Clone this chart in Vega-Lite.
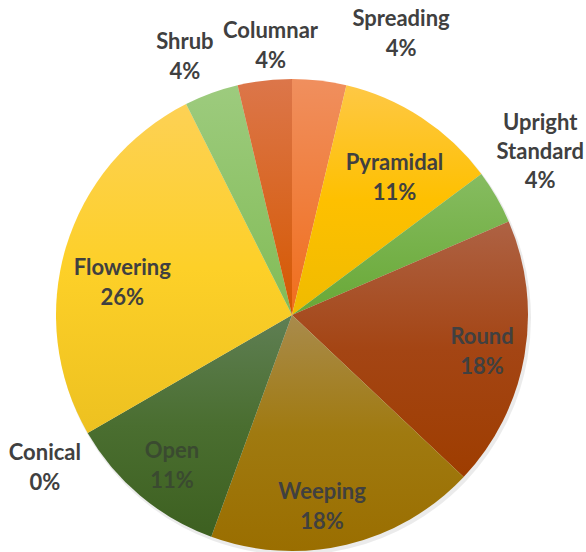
{
  "$schema": "https://vega.github.io/schema/vega-lite/v6.json",
  "autosize": "none",
  "padding": {"left": 0, "top": 78, "right": 2, "bottom": 0},
  "width": 584,
  "height": 474,
  "background": "white",
  "view": {"stroke": null},
  "data": {
    "values": [
      {"idx": 1, "shape": "Spreading", "share": 3.7, "label": "Spreading\n4%"},
      {"idx": 2, "shape": "Pyramidal", "share": 11.1, "label": "Pyramidal\n11%"},
      {"idx": 3, "shape": "Upright Standard", "share": 3.7, "label": "Upright\nStandard\n4%"},
      {"idx": 4, "shape": "Round", "share": 18.5, "label": "Round\n18%"},
      {"idx": 5, "shape": "Weeping", "share": 18.5, "label": "Weeping\n18%"},
      {"idx": 6, "shape": "Open", "share": 11.1, "label": "Open\n11%"},
      {"idx": 7, "shape": "Conical", "share": 0, "label": "Conical\n0%"},
      {"idx": 8, "shape": "Flowering", "share": 25.9, "label": "Flowering\n26%"},
      {"idx": 9, "shape": "Shrub", "share": 3.7, "label": "Shrub\n4%"},
      {"idx": 10, "shape": "Columnar", "share": 3.7, "label": "Columnar\n4%"}
    ]
  },
  "encoding": {
    "theta": {"field": "share", "type": "quantitative", "stack": true},
    "order": {"field": "idx", "type": "quantitative"}
  },
  "layer": [
    {
      "mark": {"type": "arc", "radius": 237, "xOffset": 2, "yOffset": 3, "color": "#000000", "opacity": 0.08}
    },
    {
      "mark": {"type": "arc", "radius": 236},
      "encoding": {
        "color": {
          "condition": [
            {"test": "datum.shape === 'Spreading'", "value": {"gradient": "linear", "x1": 0, "y1": 0, "x2": 0, "y2": 1, "stops": [{"offset": 0, "color": "#F08F5E"}, {"offset": 1, "color": "#F06E1C"}]}},
            {"test": "datum.shape === 'Pyramidal'", "value": {"gradient": "linear", "x1": 0, "y1": 0, "x2": 0, "y2": 1, "stops": [{"offset": 0, "color": "#FEC845"}, {"offset": 0.5, "color": "#FEC000"}, {"offset": 1, "color": "#EFBB00"}]}},
            {"test": "datum.shape === 'Upright Standard'", "value": {"gradient": "linear", "x1": 0, "y1": 0, "x2": 0, "y2": 1, "stops": [{"offset": 0, "color": "#86BC60"}, {"offset": 1, "color": "#68A836"}]}},
            {"test": "datum.shape === 'Round'", "value": {"gradient": "linear", "x1": 0, "y1": 0, "x2": 0, "y2": 1, "stops": [{"offset": 0, "color": "#AE6244"}, {"offset": 0.5, "color": "#A44514"}, {"offset": 1, "color": "#9E3D00"}]}},
            {"test": "datum.shape === 'Weeping'", "value": {"gradient": "linear", "x1": 0, "y1": 0, "x2": 0, "y2": 1, "stops": [{"offset": 0, "color": "#A98B4C"}, {"offset": 0.5, "color": "#A07A10"}, {"offset": 1, "color": "#9A6E00"}]}},
            {"test": "datum.shape === 'Open'", "value": {"gradient": "linear", "x1": 0, "y1": 0, "x2": 0, "y2": 1, "stops": [{"offset": 0, "color": "#5F7F54"}, {"offset": 0.5, "color": "#4A6E30"}, {"offset": 1, "color": "#3D6020"}]}},
            {"test": "datum.shape === 'Flowering'", "value": {"gradient": "linear", "x1": 0, "y1": 0, "x2": 0, "y2": 1, "stops": [{"offset": 0, "color": "#FDD155"}, {"offset": 0.5, "color": "#FDD028"}, {"offset": 1, "color": "#EDC120"}]}},
            {"test": "datum.shape === 'Shrub'", "value": {"gradient": "linear", "x1": 0, "y1": 0, "x2": 0, "y2": 1, "stops": [{"offset": 0, "color": "#9DCB7E"}, {"offset": 1, "color": "#82BC56"}]}},
            {"test": "datum.shape === 'Columnar'", "value": {"gradient": "linear", "x1": 0, "y1": 0, "x2": 0, "y2": 1, "stops": [{"offset": 0, "color": "#DC764A"}, {"offset": 1, "color": "#D55800"}]}}
          ],
          "value": "#5B9BD5"
        }
      }
    },
    {
      "mark": {"type": "text", "radius": 172, "dx": 8, "dy": -8, "font": "Lato", "fontWeight": "bold", "fontSize": 22, "lineHeight": 30, "lineBreak": "\n", "color": "#404040"},
      "encoding": {"text": {"condition": {"test": "datum.shape === 'Pyramidal'", "field": "label"}, "value": ""}}
    },
    {
      "mark": {"type": "text", "radius": 193, "dy": -12, "font": "Lato", "fontWeight": "bold", "fontSize": 22, "lineHeight": 30, "lineBreak": "\n", "color": "#404040"},
      "encoding": {"text": {"condition": {"test": "datum.shape === 'Round'", "field": "label"}, "value": ""}}
    },
    {
      "mark": {"type": "text", "radius": 193, "dx": 4, "dy": -12, "font": "Lato", "fontWeight": "bold", "fontSize": 22, "lineHeight": 30, "lineBreak": "\n", "color": "#3A4A30"},
      "encoding": {"text": {"condition": {"test": "datum.shape === 'Open'", "field": "label"}, "value": ""}}
    },
    {
      "mark": {"type": "text", "radius": 191, "dx": -14, "dy": -9, "font": "Lato", "fontWeight": "bold", "fontSize": 22, "lineHeight": 30, "lineBreak": "\n", "color": "#404040"},
      "encoding": {"text": {"condition": {"test": "datum.shape === 'Weeping'", "field": "label"}, "value": ""}}
    },
    {
      "mark": {"type": "text", "radius": 173, "dx": -4, "dy": 3, "font": "Lato", "fontWeight": "bold", "fontSize": 22, "lineHeight": 30, "lineBreak": "\n", "color": "#404040"},
      "encoding": {"text": {"condition": {"test": "datum.shape === 'Flowering'", "field": "label"}, "value": ""}}
    },
    {
      "mark": {"type": "text", "radius": 285, "dx": 76, "dy": -13, "font": "Lato", "fontWeight": "bold", "fontSize": 22, "lineHeight": 30, "lineBreak": "\n", "color": "#404040"},
      "encoding": {"text": {"condition": {"test": "datum.shape === 'Spreading'", "field": "label"}, "value": ""}}
    },
    {
      "mark": {"type": "text", "radius": 271, "dx": 10, "dy": -15, "font": "Lato", "fontWeight": "bold", "fontSize": 22, "lineHeight": 30, "lineBreak": "\n", "color": "#404040"},
      "encoding": {"text": {"condition": {"test": "datum.shape === 'Columnar'", "field": "label"}, "value": ""}}
    },
    {
      "mark": {"type": "text", "radius": 281, "dx": -11, "dy": -9, "font": "Lato", "fontWeight": "bold", "fontSize": 22, "lineHeight": 30, "lineBreak": "\n", "color": "#404040"},
      "encoding": {"text": {"condition": {"test": "datum.shape === 'Shrub'", "field": "label"}, "value": ""}}
    },
    {
      "mark": {"type": "text", "radius": 297, "dx": -9, "dy": -44, "font": "Lato", "fontWeight": "bold", "fontSize": 22, "lineHeight": 29, "lineBreak": "\n", "color": "#404040"},
      "encoding": {"text": {"condition": {"test": "datum.shape === 'Upright Standard'", "field": "label"}, "value": ""}}
    },
    {
      "mark": {"type": "text", "radius": 290, "dx": 4, "dy": -7, "font": "Lato", "fontWeight": "bold", "fontSize": 22, "lineHeight": 30, "lineBreak": "\n", "color": "#404040"},
      "encoding": {"text": {"condition": {"test": "datum.shape === 'Conical'", "field": "label"}, "value": ""}}
    }
  ]
}
